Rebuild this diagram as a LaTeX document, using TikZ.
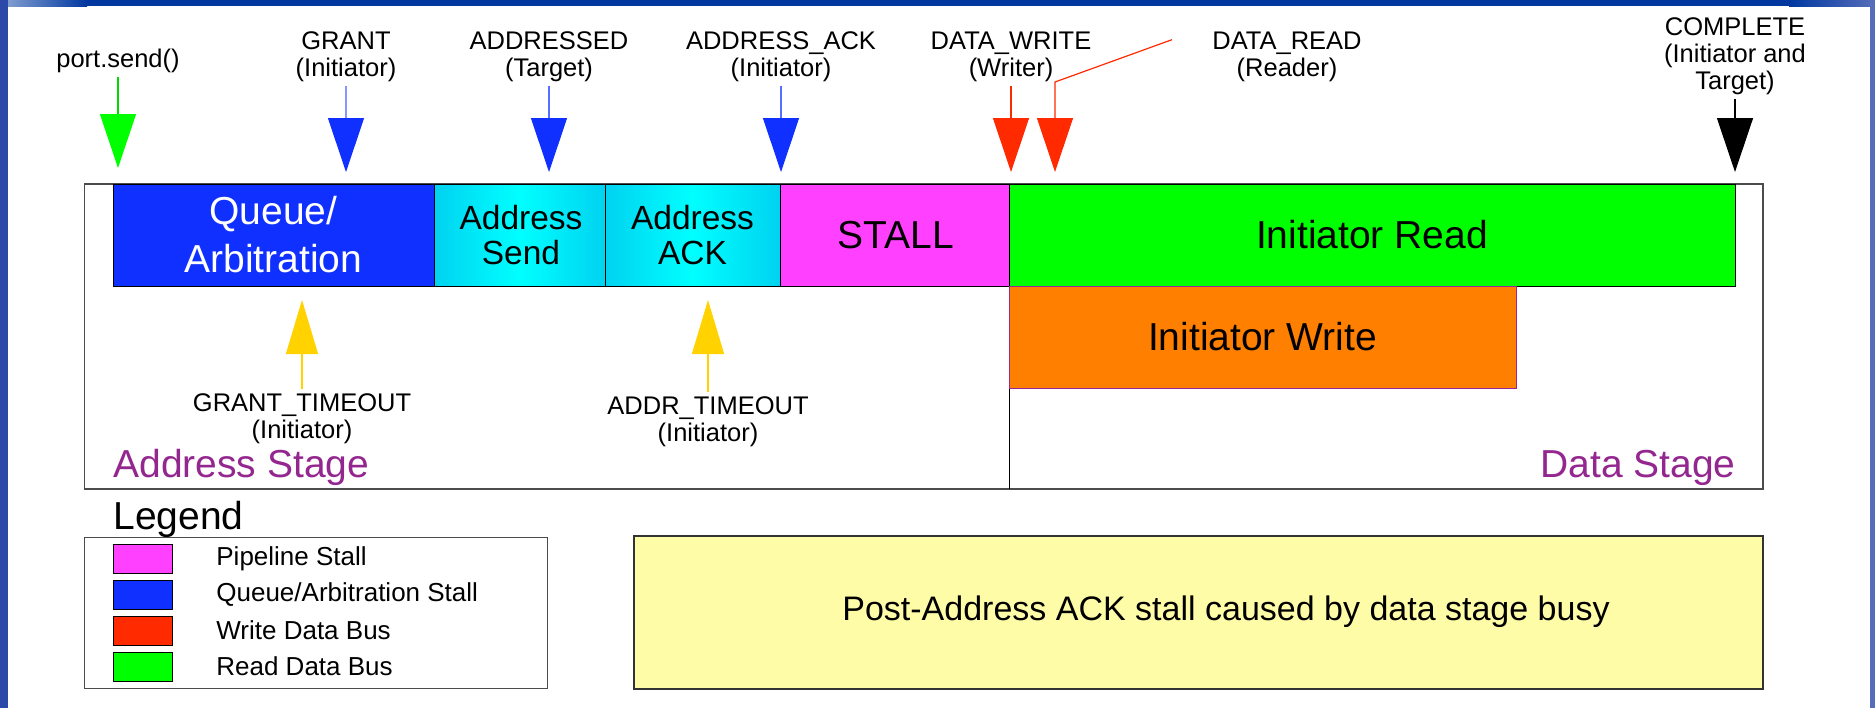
\documentclass[tikz,border=0pt]{standalone}
\usepackage{fontspec}
\setmainfont{Liberation Sans}
\usetikzlibrary{
  calc, % For offsets from nodes
  arrows.meta % For the triangle markers
}

% Farben
\definecolor{barblue}{RGB}{0,56,160}
\definecolor{sideblue}{RGB}{44,72,168}
\definecolor{qblue}{RGB}{16,48,255}
\definecolor{acyan}{RGB}{0,210,240}
\definecolor{pstall}{RGB}{255,64,255}
\definecolor{rgreen}{RGB}{0,255,0}
\definecolor{worange}{RGB}{255,127,0}
\definecolor{wred}{RGB}{255,42,0}
\definecolor{tyellow}{RGB}{255,210,0}
\definecolor{stagepurple}{RGB}{147,39,143}
\definecolor{notey}{RGB}{255,252,168}

\begin{document}
\begin{tikzpicture}[
    x=0.5pt, y=-0.5pt, % one unit = one pixel, y grows downwards
    lbl/.style={font=\fontsize{12.75}{13.5}\selectfont, align=center, inner sep=2pt},
    big/.style={font=\fontsize{19.5}{24}\selectfont, align=center, inner sep=0pt},
    stage/.style={font=\fontsize{19.5}{24}\selectfont, text=stagepurple, inner sep=0pt},
    blk/.style={draw=black, line width=0.5pt},
    evt/.style={line width=0.6pt, -{Triangle[width=18pt, length=27pt, color=#1, fill=#1]}},
    tmo/.style={line width=0.6pt, -{Triangle[width=16pt, length=27pt, color=#1, fill=#1]}},
  ]

    % Rahmen oben, links und rechts
    \fill[white] (0,0) rectangle (1875,708);
    \fill[barblue] (0,0) rectangle (1875,6);
    \shade[left color=barblue!45, right color=barblue] (0,0) rectangle (87,6);
    \shade[left color=barblue, right color=sideblue!80] (1789,0) rectangle (1875,6);
    \fill[sideblue] (0,0) rectangle (8,708);
    \fill[sideblue!80] (1870,0) rectangle (1875,708);
    \useasboundingbox (0,0) rectangle (1875,708);

    % Stufen
    \draw[gray!60!black, line width=0.75pt] (84.5,184) rectangle (1763,489);
    \draw[black, line width=0.5pt] (1009,184) -- (1009,489);

    \filldraw[blk, fill=qblue] (113,184) rectangle (434,286);
    \draw[blk, left color=acyan, right color=acyan, middle color=cyan] (434,184) rectangle (605,286);
    \draw[blk, left color=acyan, right color=acyan, middle color=cyan] (605,184) rectangle (780,286);
    \filldraw[blk, fill=pstall] (780,184) rectangle (1009,286);
    \filldraw[blk, fill=rgreen] (1009,184) rectangle (1735,286);
    \filldraw[blk, fill=worange, draw=pstall!60!black] (1009,286) rectangle (1516,388);

    \node[big, text=white] (queue) at (273.5,235) {Queue/\\Arbitration};
    \node[big, font=\fontsize{16.75}{17.5}\selectfont] (asend) at (521,235) {Address\\Send};
    \node[big, font=\fontsize{16.75}{17.5}\selectfont] (aackblk) at (692.5,235) {Address\\ACK};
    \node[big] (stall) at (896,235) {STALL};
    \node[big] (iread) at (1372,235) {Initiator Read};
    \node[big] (iwrite) at (1262.5,337) {Initiator Write};

    % Ereignisse oben
    \node[lbl, anchor=south] (psend) at (118,77) {port.send()};
    \node[lbl, anchor=south] (grant) at (346,86) {GRANT\\(Initiator)};
    \node[lbl, anchor=south] (addrd) at (549,86) {ADDRESSED\\(Target)};
    \node[lbl, anchor=south] (aack) at (781,86) {ADDRESS\_ACK\\(Initiator)};
    \node[lbl, anchor=south] (dwrite) at (1011,86) {DATA\_WRITE\\(Writer)};
    \node[lbl, anchor=south] (dread) at (1287,86) {DATA\_READ\\(Reader)};
    \node[lbl, anchor=south] (cmpl) at (1735,99) {COMPLETE\\(Initiator and\\Target)};

    \coordinate (send tip) at (118,168);
    \coordinate (grant tip) at (346,172);
    \coordinate (addrd tip) at (549,172);
    \coordinate (aack tip) at (781,172);
    \coordinate (write tip) at (1011,172);
    \coordinate (read tip) at (1055,172);
    \coordinate (cmpl tip) at (1735,172);
    \coordinate (rd start) at ($(dread.west)+(-36,-17)$);
    \coordinate (rd bend) at (1055,82);

    \draw[evt=rgreen, rgreen!85!black] (psend) -- (send tip);
    \draw[evt=qblue, qblue!50] (grant) -- (grant tip);
    \draw[evt=qblue, qblue!70] (addrd) -- (addrd tip);
    \draw[evt=qblue, qblue!70] (aack) -- (aack tip);
    \draw[evt=wred, wred] (dwrite) -- (write tip);
    \draw[evt=wred, wred] (rd start) -- (rd bend) -- (read tip);
    \draw[evt=black, black] (cmpl) -- (cmpl tip);

    % Timeouts unten
    \node[lbl, anchor=north] (gto) at (302,389) {GRANT\_TIMEOUT\\(Initiator)};
    \node[lbl, anchor=north] (ato) at (708,392) {ADDR\_TIMEOUT\\(Initiator)};
    \coordinate (gto tip) at (302,300);
    \coordinate (ato tip) at (708,300);
    \draw[tmo=tyellow, tyellow] (gto) -- (gto tip);
    \draw[tmo=tyellow, tyellow] (ato) -- (ato tip);

    \node[stage, anchor=base west] (astage) at (113,477) {Address Stage};
    \node[stage, anchor=base east] (dstage) at (1736,477) {Data Stage};

    % Legende
    \node[font=\fontsize{19.5}{24}\selectfont, anchor=base west, inner sep=0pt] (legend) at (113,529) {Legend};
    \draw[gray!60!black, line width=0.5pt] (84.5,537) rectangle (547,688);
    \foreach \c/\t [count=\i from 0] in {pstall/Pipeline Stall, qblue/{Queue/Arbitration Stall}, wred/Write Data Bus, rgreen/Read Data Bus}
    {
      \filldraw[blk, fill=\c] (113,544+36*\i) rectangle (172,573+36*\i);
      \node[font=\fontsize{13}{15}\selectfont, anchor=west, inner sep=0pt] (leg\i) at (216,558.5+36*\i) {\t};
    }

    % Hinweis
    \filldraw[fill=notey, draw=black!80, line width=0.6pt] (634,536) rectangle (1763,689);
    \node[font=\fontsize{17}{20}\selectfont, inner sep=0pt] (note) at (1226,612) {Post-Address ACK stall caused by data stage busy};

\end{tikzpicture}
\end{document}
